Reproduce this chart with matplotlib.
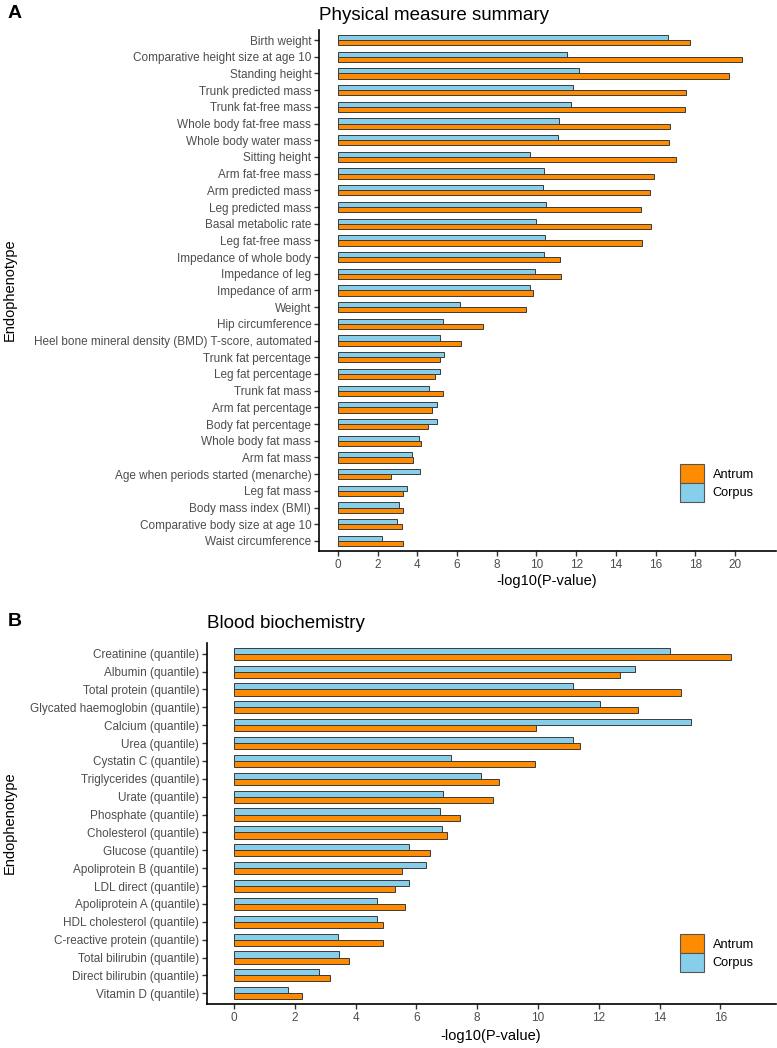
import numpy as np
import matplotlib
matplotlib.use("Agg")
import matplotlib.pyplot as plt
from matplotlib.patches import Patch

plt.rcParams['font.family'] = ['Liberation Sans', 'DejaVu Sans']

# --------------------------------------------------
# Data (-log10 P-values)
# --------------------------------------------------
phys_labels = [
    "Birth weight", "Comparative height size at age 10", "Standing height",
    "Trunk predicted mass", "Trunk fat-free mass", "Whole body fat-free mass",
    "Whole body water mass", "Sitting height", "Arm fat-free mass",
    "Arm predicted mass", "Leg predicted mass", "Basal metabolic rate",
    "Leg fat-free mass", "Impedance of whole body", "Impedance of leg",
    "Impedance of arm", "Weight", "Hip circumference",
    "Heel bone mineral density (BMD) T-score, automated",
    "Trunk fat percentage", "Leg fat percentage", "Trunk fat mass",
    "Arm fat percentage", "Body fat percentage", "Whole body fat mass",
    "Arm fat mass", "Age when periods started (menarche)", "Leg fat mass",
    "Body mass index (BMI)", "Comparative body size at age 10",
    "Waist circumference",
]
phys_antrum = [17.73, 20.34, 19.71, 17.51, 17.50, 16.74, 16.69, 17.01, 15.93,
               15.73, 15.28, 15.75, 15.31, 11.19, 11.23, 9.80, 9.45, 7.31,
               6.22, 5.14, 4.91, 5.31, 4.74, 4.54, 4.18, 3.80, 2.67, 3.28,
               3.28, 3.24, 3.28]
phys_corpus = [16.64, 11.55, 12.15, 11.82, 11.76, 11.14, 11.09, 9.66, 10.39,
               10.34, 10.50, 10.00, 10.45, 10.39, 9.93, 9.68, 6.15, 5.29,
               5.14, 5.34, 5.14, 4.59, 4.97, 4.99, 4.08, 3.73, 4.13, 3.45,
               3.08, 2.97, 2.22]

blood_labels = [
    "Creatinine (quantile)", "Albumin (quantile)", "Total protein (quantile)",
    "Glycated haemoglobin (quantile)", "Calcium (quantile)", "Urea (quantile)",
    "Cystatin C (quantile)", "Triglycerides (quantile)", "Urate (quantile)",
    "Phosphate (quantile)", "Cholesterol (quantile)", "Glucose (quantile)",
    "Apoliprotein B (quantile)", "LDL direct (quantile)",
    "Apoliprotein A (quantile)", "HDL cholesterol (quantile)",
    "C-reactive protein (quantile)", "Total bilirubin (quantile)",
    "Direct bilirubin (quantile)", "Vitamin D (quantile)",
]
blood_antrum = [16.34, 12.69, 14.69, 13.29, 9.93, 11.38, 9.89, 8.71, 8.51,
                7.44, 6.99, 6.45, 5.53, 5.30, 5.64, 4.91, 4.91, 3.79, 3.16,
                2.24]
blood_corpus = [14.35, 13.19, 11.14, 12.04, 15.03, 11.15, 7.13, 8.13, 6.87,
                6.77, 6.84, 5.76, 6.32, 5.76, 4.69, 4.70, 3.42, 3.45, 2.79,
                1.77]

ANTRUM = "#FF8C00"
CORPUS = "#87CEEB"
EDGE = "#3a3a3a"

W, H = 777, 1048
fig = plt.figure(figsize=(W / 100, H / 100), dpi=100)


def px_axes(left, top, right, bottom):
    return fig.add_axes([left / W, 1 - bottom / H, (right - left) / W, (bottom - top) / H])


def panel(ax, labels, antrum, corpus, xmax_tick, xlim, bar_h, legend_top):
    n = len(labels)
    y = np.arange(n)[::-1]
    ax.barh(y + bar_h / 2, corpus, height=bar_h, color=CORPUS,
            edgecolor=EDGE, linewidth=0.7)
    ax.barh(y - bar_h / 2, antrum, height=bar_h, color=ANTRUM,
            edgecolor=EDGE, linewidth=0.7)
    ax.set_ylim(-0.6, n - 1 + 0.6)
    ax.set_xlim(*xlim)
    ax.set_yticks(y)
    ax.set_yticklabels(labels)
    ax.set_xticks(np.arange(0, xmax_tick + 1, 2))
    for s in ["top", "right"]:
        ax.spines[s].set_visible(False)
    for s in ["left", "bottom"]:
        ax.spines[s].set_linewidth(1.2)
        ax.spines[s].set_color("black")
    ax.tick_params(axis="both", labelsize=8.5, labelcolor="#4D4D4D",
                   color="#333333", length=3.5, width=1.0, pad=2)
    handles = [Patch(facecolor=ANTRUM, edgecolor="#555555", linewidth=0.8, label="Antrum"),
               Patch(facecolor=CORPUS, edgecolor="#555555", linewidth=0.8, label="Corpus")]
    ax.legend(handles=handles, loc="upper left",
              bbox_to_anchor=(680 / W, 1 - legend_top / H),
              bbox_transform=fig.transFigure, frameon=False, fontsize=9.2,
              handlelength=1.9, handleheight=1.9, labelspacing=0,
              handletextpad=0.65, borderpad=0, borderaxespad=0)


# Panel A
axA = px_axes(319, 30, 776, 551)
panel(axA, phys_labels, phys_antrum, phys_corpus, 20, (-0.96, 22.07), 0.31, 464)
fig.text(319 / W, 1 - 15 / H, "Physical measure summary", fontsize=13.5,
         ha="left", va="center")
fig.text(547 / W, 1 - 581 / H, "-log10(P-value)", fontsize=10.5,
         ha="center", va="center")
fig.text(10 / W, 1 - 290 / H, "Endophenotype", fontsize=10.5, rotation=90,
         ha="center", va="center")
fig.text(8 / W, 1 - 14 / H, "A", fontsize=14, fontweight="bold",
         ha="left", va="center")

# Panel B
axB = px_axes(207, 643, 776, 1004)
panel(axB, blood_labels, blood_antrum, blood_corpus, 16, (-0.89, 17.83), 0.34, 934)
fig.text(207 / W, 1 - 624 / H, "Blood biochemistry", fontsize=13.5,
         ha="left", va="center")
fig.text(491 / W, 1 - 1036 / H, "-log10(P-value)", fontsize=10.5,
         ha="center", va="center")
fig.text(10 / W, 1 - 823 / H, "Endophenotype", fontsize=10.5, rotation=90,
         ha="center", va="center")
fig.text(8 / W, 1 - 622 / H, "B", fontsize=14, fontweight="bold",
         ha="left", va="center")

fig.savefig("out.png", dpi=100)
